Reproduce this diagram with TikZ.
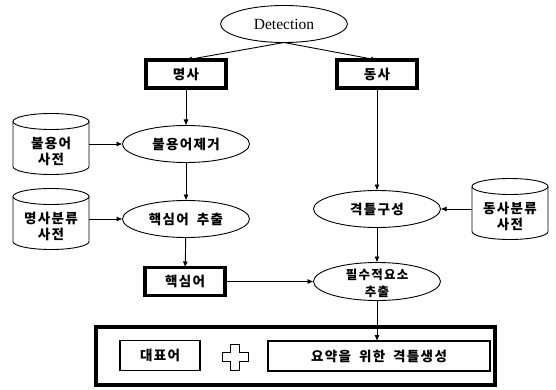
\documentclass[tikz,border=0pt]{standalone}
\usepackage{fontspec}
\setmainfont{Liberation Serif}
\newfontfamily\kr{Noto Sans CJK KR}[LetterSpace=10,WordSpace=1.8]
\usetikzlibrary{shapes.geometric,arrows.meta}
\tikzset{
  thinline/.style={line width=0.9pt},
  arr/.style={thinline,-{Latex[length=6pt,width=5pt]}},
  ktext/.style={font=\kr\bfseries\fontsize{13.5}{16}\selectfont, align=center, inner sep=0pt},
  kbox/.style={draw, line width=3.5pt, minimum width=80pt, minimum height=28pt, outer sep=0pt, ktext},
  ell/.style={draw, ellipse, thinline, minimum width=127pt, minimum height=37pt, inner sep=0pt, outer sep=0pt, ktext},
  cylbox/.style={minimum width=76pt, minimum height=61pt, outer sep=0pt, inner sep=0pt},
  tbox/.style={draw, line width=1.1pt, minimum height=30pt, outer sep=0pt, ktext},
}
\newcommand{\drawcyl}[1]{%
  \draw[thinline] ([yshift=-8pt]#1.north) ellipse [x radius=38pt, y radius=8pt];
  \draw[thinline] ([yshift=-8pt]#1.north west) -- ([yshift=8pt]#1.south west)
    arc[start angle=180, end angle=360, x radius=38pt, y radius=8pt]
    -- ([yshift=-8pt]#1.north east);}
\begin{document}
\begin{tikzpicture}[x=1pt,y=-1pt]
\fill[white] (0,0) rectangle (556,390);
\useasboundingbox (0,0) rectangle (556,390);

\node[ell, font=\rmfamily\fontsize{15.5}{17}\selectfont] (det) at (284,24) {Detection};
\node[kbox] (noun) at (186,74) {명사};
\node[kbox] (verb) at (377,74) {동사};

\node[cylbox] (dic1) at (51,144) {};
\drawcyl{dic1}
\node[ktext] at (51,151) {불용어\\사전};
\node[ell] (stop) at (186,144) {불용어제거};

\node[cylbox] (dic2) at (51,219) {};
\drawcyl{dic2}
\node[ktext] at (51,226) {명사분류\\사전};
\node[ell] (core) at (186,219) {핵심어 추출};

\node[ell] (case) at (377,209) {격틀구성};
\node[cylbox] (dic3) at (510,209) {};
\drawcyl{dic3}
\node[ktext] at (510,216) {동사분류\\사전};

\node[kbox] (key) at (185,281.5) {핵심어};
\node[ell, minimum height=38pt] (ess) at (377,281.5) {};
\node[ktext, font=\kr\bfseries\fontsize{12.5}{17}\selectfont] at (377,283) {필수적요소\\추출};

\node[draw, line width=4pt, minimum width=399pt, minimum height=58pt, outer sep=0pt] (out) at (295.5,356) {};
\node[tbox, minimum width=80pt] (rep) at (160,355.5) {대표어};
\node[tbox, minimum width=222pt] (sum) at (379,356) {요약을 위한 격틀생성};
\coordinate (plus) at (235,357);
\draw[thinline] (plus) ++(-4.5,-13) -- ++(9,0) -- ++(0,8.5) -- ++(8.5,0) -- ++(0,9)
  -- ++(-8.5,0) -- ++(0,8.5) -- ++(-9,0) -- ++(0,-8.5) -- ++(-8.5,0) -- ++(0,-9)
  -- ++(8.5,0) -- cycle;

\draw[arr] (det.south) -- (noun.north);
\draw[arr] (det.south) -- (verb.north);
\draw[arr] (noun) -- (stop);
\draw[arr] (stop) -- (core);
\draw[arr] (core) -- (key);
\draw[arr] (dic1) -- (stop);
\draw[arr] (dic2) -- (core);
\draw[arr] (verb) -- (case);
\draw[arr] (dic3) -- (case);
\draw[arr] (case) -- (ess);
\draw[arr] (key) -- (ess);
\draw[arr] (ess.south) -- (ess.south |- sum.north);
\end{tikzpicture}
\end{document}
